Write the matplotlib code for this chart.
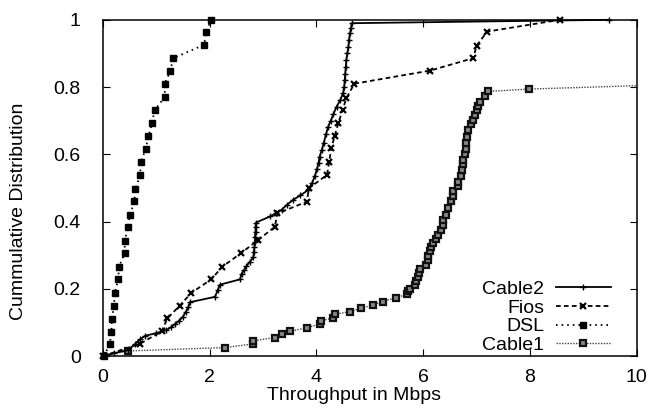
import matplotlib
matplotlib.use('Agg')
import matplotlib.pyplot as plt

plt.rcParams['font.family'] = 'Liberation Sans'
plt.rcParams['font.size'] = 14

# Cable2 (solid, + markers)
cable2_x = [0, 0.2, 0.47, 0.6, 0.7, 0.79, 1.0, 1.19, 1.28, 1.35, 1.43, 1.5, 1.55, 1.6, 1.63,
            2.10, 2.15, 2.19, 2.57, 2.60, 2.65, 2.69, 2.75, 2.82, 2.83, 2.84, 2.85, 2.85, 2.86,
            2.86, 2.87, 3.13, 3.25, 3.35, 3.45, 3.56, 3.70, 3.85, 3.92, 3.97, 4.01, 4.04, 4.06,
            4.10, 4.14, 4.18, 4.22, 4.27, 4.32, 4.38, 4.45, 4.50, 4.52, 4.53, 4.54, 4.55, 4.56,
            4.58, 4.60, 4.61, 4.63, 4.65, 4.66, 9.48]
cable2_y = [0, 0.008, 0.018, 0.035, 0.05, 0.06, 0.068, 0.077, 0.086, 0.095, 0.105, 0.117, 0.13,
            0.145, 0.16, 0.176, 0.195, 0.212, 0.228, 0.245, 0.256, 0.267, 0.28, 0.294, 0.31,
            0.325, 0.34, 0.355, 0.37, 0.385, 0.397, 0.415, 0.425, 0.435, 0.45, 0.464, 0.478,
            0.494, 0.515, 0.535, 0.555, 0.575, 0.593, 0.612, 0.635, 0.66, 0.682, 0.70, 0.72,
            0.742, 0.762, 0.782, 0.80, 0.82, 0.84, 0.86, 0.88, 0.90, 0.92, 0.94, 0.96, 0.975,
            0.99, 1.0]

# Fios (dashed, x markers)
fios_x = [0, 0.69, 1.10, 1.21, 1.44, 1.66, 2.03, 2.24, 2.58, 2.90, 3.22, 3.27, 3.82, 3.86,
          4.20, 4.24, 4.28, 4.34, 4.41, 4.49, 4.56, 4.71, 6.13, 6.94, 7.0, 7.2, 8.56]
fios_y = [0, 0.036, 0.073, 0.112, 0.15, 0.188, 0.228, 0.266, 0.305, 0.344, 0.384, 0.424,
          0.459, 0.499, 0.539, 0.578, 0.618, 0.653, 0.692, 0.732, 0.766, 0.81, 0.849, 0.886,
          0.923, 0.965, 1.0]

# DSL (dotted, filled markers)
dsl_x = [0.02, 0.13, 0.16, 0.17, 0.21, 0.22, 0.29, 0.30, 0.41, 0.41, 0.47, 0.51, 0.59, 0.61,
         0.70, 0.71, 0.80, 0.855, 0.92, 0.97, 1.16, 1.16, 1.26, 1.32, 1.90, 1.93, 2.03]
dsl_y = [0, 0.035, 0.072, 0.111, 0.149, 0.188, 0.228, 0.266, 0.305, 0.343, 0.383, 0.42,
         0.46, 0.497, 0.539, 0.576, 0.615, 0.653, 0.692, 0.732, 0.770, 0.809, 0.847, 0.886,
         0.926, 0.963, 1.0]

# Cable1 (fine dotted, box markers)
cable1_x = [0, 0.47, 2.28, 2.82, 2.82, 3.22, 3.35, 3.50, 3.82, 4.06, 4.09, 4.31, 4.34, 4.63,
            4.84, 5.06, 5.24, 5.50, 5.69, 5.72, 5.75, 5.84, 5.87, 5.91, 5.93, 5.94, 6.06, 6.09,
            6.09, 6.12, 6.15, 6.19, 6.25, 6.28, 6.33, 6.37, 6.37, 6.42, 6.47, 6.52, 6.56, 6.56,
            6.65, 6.65, 6.70, 6.72, 6.75, 6.75, 6.78, 6.80, 6.81, 6.83, 6.84, 6.90, 6.93, 6.97,
            7.0, 7.03, 7.06, 7.15, 7.22, 7.98, 12.0]
cable1_y = [0, 0.015, 0.025, 0.036, 0.045, 0.055, 0.064, 0.073, 0.084, 0.095, 0.104, 0.114,
            0.124, 0.132, 0.142, 0.152, 0.162, 0.174, 0.183, 0.192, 0.20, 0.21, 0.222, 0.235,
            0.248, 0.258, 0.272, 0.285, 0.298, 0.312, 0.325, 0.335, 0.347, 0.36, 0.375, 0.39,
            0.405, 0.42, 0.44, 0.46, 0.475, 0.49, 0.505, 0.519, 0.535, 0.554, 0.57, 0.583, 0.60,
            0.615, 0.633, 0.65, 0.673, 0.69, 0.702, 0.718, 0.732, 0.745, 0.757, 0.772, 0.787,
            0.794, 0.814]

x_ticks = [0, 2, 4, 6, 8, 10]
y_ticks = [0, 0.2, 0.4, 0.6, 0.8, 1]
y_tick_labels = ['0', '0.2', '0.4', '0.6', '0.8', '1']

fig = plt.figure(figsize=(6.51, 4.13), dpi=100)
ax = fig.add_axes([0.158, 0.138, 0.820, 0.814])

ax.plot(cable2_x, cable2_y, color='black', lw=1.3, marker='+', markersize=4.5,
        markeredgewidth=1.0, label='Cable2', clip_on=False, zorder=4)
ax.plot(fios_x, fios_y, color='black', lw=1.3, dashes=(2.6, 1.8), marker='x', markersize=5,
        markeredgewidth=1.6, label='Fios', clip_on=False, zorder=3)
ax.plot(dsl_x, dsl_y, color='black', lw=1.3, dashes=(0.9, 2.2), marker='s', markersize=4.7,
        markeredgewidth=1.0, markerfacecolor='black', label='DSL', clip_on=False, zorder=3)
ax.plot(cable1_x, cable1_y, color='#444444', lw=1.0, dashes=(1, 1), marker='s', markersize=4.8,
        markeredgewidth=1.6, markeredgecolor='#111111', markerfacecolor='#888888',
        label='Cable1', zorder=2)

ax.set_xlim(0, 10)
ax.set_ylim(0, 1)
ax.set_xticks(x_ticks)
ax.set_xticklabels([str(v) for v in x_ticks])
ax.set_yticks(y_ticks)
ax.set_yticklabels(y_tick_labels)
ax.tick_params(direction='in', length=5, width=0.8, top=True, right=True)
ax.tick_params(axis='y', pad=16)
ax.tick_params(axis='x', pad=9)
for s in ax.spines.values():
    s.set_linewidth(1.1)

ax.set_xlabel('Throughput in Mbps')
ax.set_ylabel('Cummulative Distribution')
ax.xaxis.set_label_coords(0.47, -0.092)
ax.yaxis.set_label_coords(-0.142, 0.43)

ax.legend(loc='lower right', bbox_to_anchor=(0.951, 0.006), frameon=False, markerfirst=False,
          handlelength=2.8, handletextpad=0.6, labelspacing=0.05, borderpad=0, borderaxespad=0)

fig.savefig('out.png', dpi=100)
